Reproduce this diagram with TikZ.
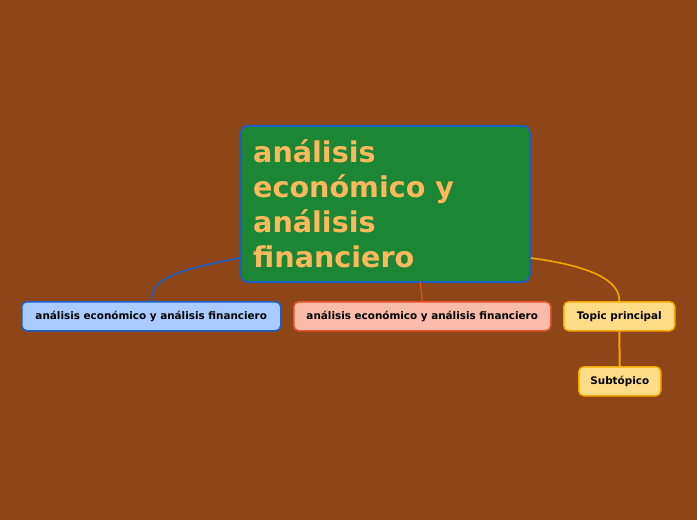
\documentclass[tikz,border=0pt]{standalone}
\usepackage{fontspec}
\setmainfont{DejaVu Sans}
\begin{document}
\begin{tikzpicture}[x=1pt,y=-1pt,
  box/.style={rounded corners=5pt, line width=1.5pt, font=\bfseries\fontsize{10.4}{12}\selectfont, text=black, minimum height=29pt, inner sep=0pt, anchor=north west},
  link/.style={line width=1.6pt}]
\definecolor{bg}{HTML}{8E4518}
\definecolor{cgreen}{HTML}{1B8634}
\definecolor{cblue}{HTML}{1A5FC8}
\definecolor{ctext}{HTML}{FFB85C}
\definecolor{lblue}{HTML}{A9CBFF}
\definecolor{lred}{HTML}{F9BBAA}
\definecolor{cred}{HTML}{E8522A}
\definecolor{lorange}{HTML}{FFDD88}
\definecolor{corange}{HTML}{F5A800}
\fill[bg] (0,0) rectangle (697,520);
\useasboundingbox (0,0) rectangle (697,520);
\node[draw=cblue, fill=cgreen, rounded corners=7pt, line width=1.8pt, minimum width=289pt, minimum height=156pt, anchor=north west, inner sep=0pt] (c) at (240,125) {};
\node[anchor=north west, text=ctext, font=\bfseries\fontsize{28.6}{35}\selectfont, align=left, inner sep=0pt] (ct) at (253,139) {análisis\\económico y\\análisis\\financiero};
\node[box, draw=cblue, fill=lblue, minimum width=259pt] (a) at (21,301) {análisis económico y análisis financiero};
\node[box, draw=cred, fill=lred, minimum width=257pt] (b) at (293,301) {análisis económico y análisis financiero};
\node[box, draw=corange, fill=lorange, minimum width=111pt] (t) at (563,301) {Topic principal};
\node[box, draw=corange, fill=lorange, minimum width=82pt] (s) at (578,366) {Subtópico};
\draw[link, cblue] (c.west |- 0,258) .. controls (175,270) and (150,280) .. (a.north);
\draw[link, cred, line width=1.1pt] (420,281.5) .. controls (421,290) and (422,295) .. (b.north);
\draw[link, corange] (c.east |- 0,258) .. controls (590,266) and (620,280) .. (t.north);
\draw[link, corange, line width=2pt] (t.south) -- (s.north);
\end{tikzpicture}
\end{document}
